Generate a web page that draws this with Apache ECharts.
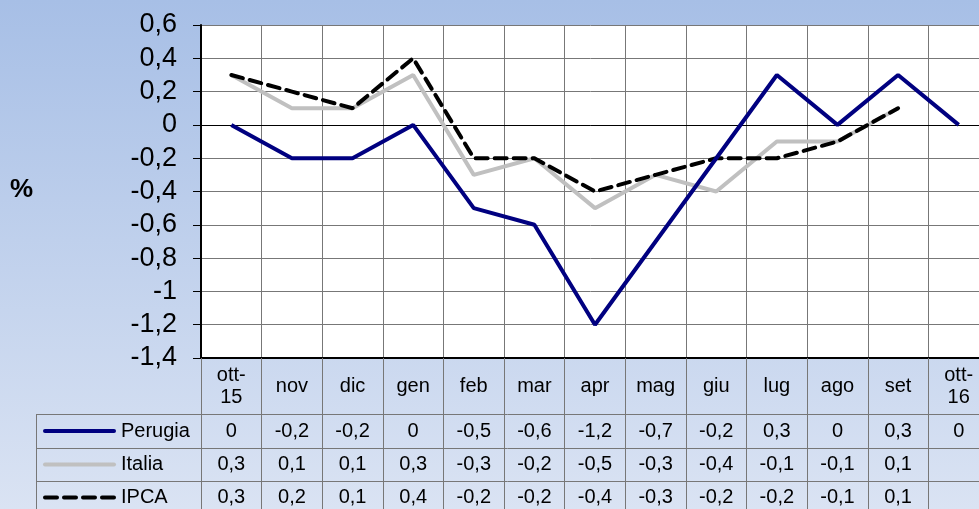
<!DOCTYPE html>
<html><head><meta charset="utf-8">
<script src="https://cdn.jsdelivr.net/npm/echarts@6/dist/echarts.min.js"></script>
<style>html,body{margin:0;padding:0;}#c{width:979px;height:509px;}</style>
</head><body><div id="c"></div>
<script>
var categories = ['ott-\n15','nov','dic','gen','feb','mar','apr','mag','giu','lug','ago','set','ott-\n16'];
var perugia = [0,-0.2,-0.2,0,-0.5,-0.6,-1.2,-0.7,-0.2,0.3,0,0.3,0];
var italia = [0.3,0.1,0.1,0.3,-0.3,-0.2,-0.5,-0.3,-0.4,-0.1,-0.1,0.1,null];
var ipca = [0.3,0.2,0.1,0.4,-0.2,-0.2,-0.4,-0.3,-0.2,-0.2,-0.1,0.1,null];
var seriesNames = ['Perugia','Italia','IPCA'];
var yTicks = {min:-1.4, max:0.6, interval:0.2};
var unitLabel = '%';

var FONT = 'Liberation Sans, Arial, sans-serif';
function fmt(v){ if(v===null||v===undefined) return ''; return String(Math.round(v*10)/10).replace('.',','); }

var rows = [perugia, italia, ipca];
var rowTop = [56, 90, 123];
var rowH = [34, 33, 33];
var gridLeft = 201, gridTop = 25, gridW = 788, gridH = 333;

var xAxes = [{
  type:'category', data:categories, position:'bottom', gridIndex:0,
  axisLine:{onZero:false, lineStyle:{color:'#000', width:2}},
  axisTick:{show:true, length:56, interval:0, lineStyle:{color:'#777'}},
  axisLabel:{interval:0, fontSize:20, fontFamily:FONT, color:'#000', margin:28, verticalAlign:'middle', lineHeight:22, align:'center', hideOverlap:false},
  splitLine:{show:true, interval:0, lineStyle:{color:'#777', width:1}}
}];
rows.forEach(function(r,i){
  xAxes.push({
    type:'category', data:categories, position:'bottom', gridIndex:0, offset:rowTop[i],
    axisLine:{show:false, onZero:false},
    axisTick:{show:true, length:rowH[i], interval:0, lineStyle:{color:'#777'}},
    axisLabel:{interval:0, fontSize:20, fontFamily:FONT, color:'#000', margin:rowH[i]/2, verticalAlign:'middle', hideOverlap:false,
      formatter:function(v, idx){ return fmt(r[idx]); }},
    splitLine:{show:false}
  });
});

var lineStyles = [
  {color:'#000080', width:4},
  {color:'#C0C0C0', width:4},
  {color:'#000000', width:4, type:[12,7], cap:'round'}
];

var graphics = [];
var tableRight = 979;
[414, 448, 481].forEach(function(y){
  graphics.push({type:'line', shape:{x1:36, y1:y+0.5, x2:tableRight, y2:y+0.5}, style:{stroke:'#777', lineWidth:1}, silent:true});
});
graphics.push({type:'line', shape:{x1:36.5, y1:414, x2:36.5, y2:509}, style:{stroke:'#777', lineWidth:1}, silent:true});
seriesNames.forEach(function(n,i){
  var yc = 358 + rowTop[i] + rowH[i]/2;
  var ls = lineStyles[i];
  graphics.push({type:'line', shape:{x1:45, y1:yc, x2:114, y2:yc},
    style:{stroke:ls.color, lineWidth:4, lineCap:'round', lineDash: ls.type ? [12,7] : null}, silent:true});
  graphics.push({type:'text', x:121, y:yc, style:{text:n, fontSize:20, fontFamily:FONT, fill:'#000', verticalAlign:'middle'}, silent:true});
});

var chart = echarts.init(document.getElementById('c'), null, {renderer:'canvas'});
chart.setOption({
  animation:false,
  backgroundColor:{type:'linear', x:0, y:0, x2:0, y2:1, colorStops:[{offset:0,color:'#A7BFE6'},{offset:1,color:'#DAE3F3'}]},
  title:{text:unitLabel, left:5, top:172, textStyle:{fontSize:26, fontWeight:'bold', fontFamily:FONT, color:'#000'}},
  grid:{left:gridLeft, top:gridTop, width:gridW, height:gridH, show:true, backgroundColor:'#fff', borderWidth:0, containLabel:false, outerBoundsMode:'none'},
  xAxis:xAxes,
  yAxis:{type:'value', min:yTicks.min, max:yTicks.max, interval:yTicks.interval,
    axisLine:{show:true, lineStyle:{color:'#000', width:2}},
    axisTick:{show:true, length:8, lineStyle:{color:'#000'}},
    axisLabel:{fontSize:27, fontFamily:FONT, color:'#000', margin:24, formatter:function(v){return fmt(v);}},
    splitLine:{show:true, lineStyle:{color:'#777', width:1}}
  },
  graphic:graphics,
  series:[
    {name:seriesNames[1], type:'line', data:italia, showSymbol:false, symbol:'none', lineStyle:lineStyles[1], z:2},
    {name:seriesNames[2], type:'line', data:ipca, showSymbol:false, symbol:'none', lineStyle:lineStyles[2], z:3},
    {name:seriesNames[0], type:'line', data:perugia, showSymbol:false, symbol:'none', lineStyle:lineStyles[0], z:4,
      markLine:{silent:true, symbol:'none', label:{show:false}, lineStyle:{color:'#000', width:1, type:'solid'}, data:[{yAxis:0}], z:1}}
  ]
});
</script></body></html>
